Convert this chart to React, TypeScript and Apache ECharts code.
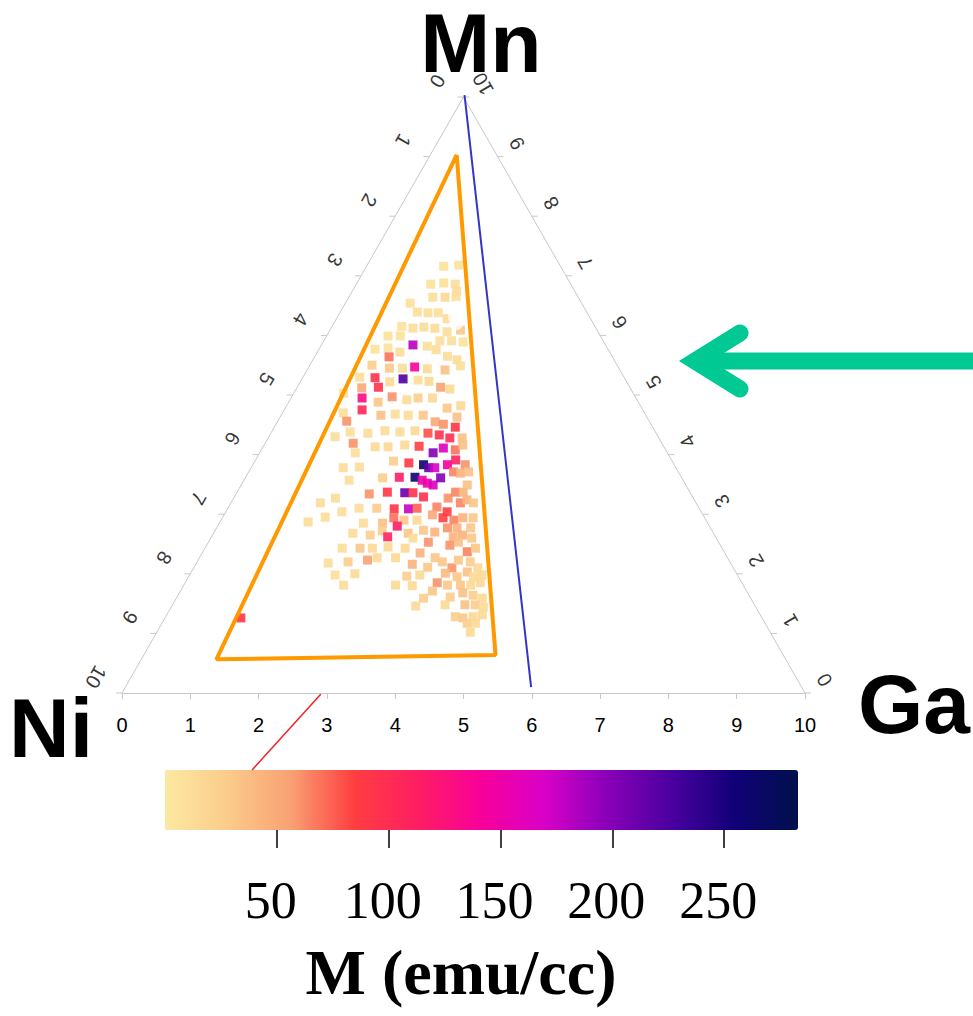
import React, { useEffect, useRef } from "react";
import * as echarts from "echarts";

const H = Math.sqrt(3) / 2;
// ternary composition (Ga, Mn, in tenths; Ni = 10 - Ga - Mn) -> plane coordinates
const toXY = (ga: number, mn: number): [number, number] => [ga + mn / 2, mn * H];

const axisSteps = [0, 1, 2, 3, 4, 5, 6, 7, 8, 9, 10];
const colorbarTicks = [50, 100, 150, 200, 250];
const mMin = 0;
const mMax = 283;
const magColors = [
  "#FCE9A1", "#FBCB8C", "#F8A072", "#FF3D40", "#FF1E62", "#F8009A",
  "#D800C8", "#8800B8", "#4B00A0", "#100078", "#00104A",
];

// samples: [Ga, Mn, M (emu/cc)]
const upperSamples: [number, number, number][] = [
  [1.13, 7.16, 8], [1.34, 7.18, 8], [1.09, 6.86, 8], [1.27, 6.88, 8], [1.45, 6.86, 10],
  [1.53, 6.74, 12], [1.23, 6.64, 10], [1.41, 6.64, 15], [1.57, 6.64, 10], [0.95, 6.54, 8],
  [1.13, 6.39, 10], [1.29, 6.38, 10], [1.44, 6.38, 10], [1.62, 6.28, 12], [1.02, 6.15, 8],
  [1.20, 6.12, 10], [1.35, 6.14, 12], [1.52, 6.12, 12], [1.73, 6.06, 10], [1.91, 6.09, 30],
  [0.90, 5.99, 8], [1.08, 5.99, 8], [1.34, 5.84, 180], [1.56, 5.82, 10], [1.70, 5.91, 10],
  [1.87, 5.91, 10], [2.05, 5.89, 8],
];

const middleSamples: [number, number, number][] = [
  [0.82, 5.77, 8], [1.00, 5.79, 8], [1.21, 5.72, 12], [1.72, 5.76, 10], [1.94, 5.65, 10],
  [2.11, 5.59, 12], [1.09, 5.64, 70], [0.91, 5.50, 25], [1.19, 5.45, 30], [1.38, 5.45, 12],
  [1.55, 5.47, 140], [1.75, 5.44, 15], [2.02, 5.42, 35], [2.21, 5.49, 10], [0.83, 5.30, 10],
  [1.06, 5.29, 95], [1.19, 5.13, 95], [1.31, 5.22, 15], [1.48, 5.27, 225], [1.71, 5.25, 10],
  [1.88, 5.23, 15], [2.10, 5.13, 55], [2.25, 5.10, 15], [0.95, 5.12, 50], [0.73, 5.03, 10],
  [1.04, 4.95, 130], [1.31, 4.88, 30], [1.47, 4.97, 60], [1.71, 4.92, 12], [1.86, 4.95, 25],
  [2.07, 4.95, 15], [2.37, 4.78, 30], [2.55, 4.82, 15], [0.89, 4.70, 10], [1.14, 4.75, 105],
  [1.46, 4.66, 35], [1.66, 4.68, 12], [1.86, 4.66, 12], [2.08, 4.66, 30], [2.31, 4.55, 50],
  [2.45, 4.51, 60], [2.59, 4.63, 35], [1.01, 4.56, 60], [1.15, 4.38, 10], [1.42, 4.36, 12],
  [1.65, 4.40, 12], [1.88, 4.38, 12], [2.09, 4.40, 15], [2.30, 4.36, 80], [2.48, 4.33, 95],
  [2.66, 4.28, 100], [2.65, 4.46, 90], [2.84, 4.28, 35], [0.97, 4.30, 10], [1.29, 4.19, 60],
];

const coreSamples: [number, number, number][] = [
  [1.64, 4.13, 15], [1.83, 4.13, 15], [2.06, 4.16, 15], [2.28, 4.14, 85], [2.54, 4.03, 200],
  [2.65, 4.11, 165], [2.84, 4.08, 70], [2.91, 4.16, 35], [1.40, 4.03, 10], [1.35, 3.78, 12],
  [1.58, 3.79, 12], [2.03, 3.89, 25], [2.27, 3.86, 90], [2.50, 3.83, 265], [2.60, 3.78, 215],
  [2.69, 3.78, 170], [2.85, 3.83, 145], [2.93, 3.91, 110], [3.11, 3.83, 60], [1.54, 3.57, 10],
  [2.01, 3.61, 25], [2.25, 3.62, 115], [2.48, 3.62, 260], [2.61, 3.57, 150], [2.71, 3.52, 150],
  [2.81, 3.49, 165], [2.86, 3.61, 200], [3.00, 3.71, 65], [3.11, 3.69, 45], [3.22, 3.71, 35],
  [1.95, 3.34, 60], [2.20, 3.37, 90], [2.46, 3.36, 210], [2.58, 3.36, 95], [2.77, 3.29, 95],
  [3.14, 3.27, 60], [3.20, 3.37, 65], [3.31, 3.37, 45], [3.31, 3.49, 35], [1.31, 3.19, 12],
  [1.49, 3.27, 12], [1.92, 3.10, 10], [2.18, 3.10, 25], [2.44, 3.09, 90], [2.65, 3.09, 175],
  [2.77, 3.10, 75], [3.05, 3.12, 65], [3.24, 3.04, 85], [3.36, 3.19, 65], [3.43, 3.24, 45],
  [3.55, 3.19, 30], [1.29, 2.87, 12], [1.50, 2.95, 12], [1.70, 3.04, 12], [2.11, 2.85, 12],
  [2.39, 2.85, 35], [2.51, 2.94, 70], [2.68, 2.90, 30], [2.87, 2.90, 15], [3.05, 2.99, 50],
  [3.23, 2.94, 85], [3.41, 2.90, 65], [3.52, 2.94, 45], [3.67, 2.94, 30], [2.63, 2.80, 115],
  [2.04, 2.68, 12], [2.31, 2.65, 25], [2.45, 2.72, 25], [2.58, 2.62, 110], [2.85, 2.68, 30],
  [3.05, 2.73, 30], [3.23, 2.70, 45], [3.38, 2.77, 60], [3.52, 2.77, 45], [3.66, 2.65, 45],
  [3.72, 2.77, 30],
];

const lowerSamples: [number, number, number][] = [
  [2.96, 2.60, 12], [3.22, 2.53, 60], [3.54, 2.62, 45], [3.82, 2.60, 30], [2.01, 2.43, 10],
  [2.27, 2.43, 30], [2.45, 2.43, 15], [2.67, 2.45, 15], [2.93, 2.43, 15], [3.19, 2.35, 45],
  [3.45, 2.27, 30], [3.56, 2.48, 60], [3.66, 2.53, 35], [3.87, 2.37, 65], [3.96, 2.43, 30],
  [1.93, 2.18, 10], [2.21, 2.20, 25], [2.48, 2.23, 55], [2.60, 2.27, 15], [2.87, 2.27, 15],
  [3.17, 2.16, 45], [3.42, 2.11, 30], [3.59, 2.20, 30], [3.78, 2.10, 60], [3.81, 2.23, 30],
  [4.00, 2.20, 25], [4.16, 2.10, 15], [2.13, 1.98, 10], [2.41, 2.00, 15], [3.19, 1.96, 25],
  [3.37, 1.98, 15], [3.69, 1.85, 60], [3.73, 2.01, 40], [3.93, 1.95, 30], [4.04, 2.03, 35],
  [4.17, 1.95, 15], [4.28, 1.98, 15], [2.34, 1.81, 12], [3.10, 1.81, 15], [3.35, 1.80, 15],
  [3.69, 1.71, 30], [3.86, 1.81, 30], [4.05, 1.81, 30], [4.20, 1.81, 15], [4.32, 1.85, 15],
  [3.62, 1.59, 25], [4.00, 1.61, 25], [4.15, 1.68, 35], [4.32, 1.64, 25], [4.48, 1.59, 15],
  [3.57, 1.46, 15], [3.99, 1.48, 15], [4.28, 1.48, 35], [4.43, 1.48, 25], [4.57, 1.44, 15],
  [4.24, 1.28, 25], [4.36, 1.26, 30], [4.50, 1.28, 15], [4.62, 1.31, 15], [4.47, 1.17, 25],
  [4.59, 1.17, 15], [4.59, 1.02, 15], [1.11, 1.26, 92],
];

// outlined composition region and guide lines, [Ga, Mn]
const orangeRegion: [number, number][] = [[0.385, 9.03], [1.10, 0.565], [5.15, 0.638], [0.385, 9.03]];
const blueTieLine: [number, number][] = [[0, 10.03], [5.94, 0.10]];
const redLead: [number, number][] = [[2.92, -0.02], [2.55, -1.29]];
const voidMark: [number, number][] = [[1.73, 6.34]];

// tick label anchors, offset outward from the edges (plane units)
const leftLabelShift: [number, number] = [-0.381, 0.232];
const rightLabelShift: [number, number] = [0.283, 0.19];

export default function App() {
  const ref = useRef<HTMLDivElement>(null);

  useEffect(() => {
    const chart = echarts.init(ref.current!, null, { renderer: "svg" });
    const samples = [...upperSamples, ...middleSamples, ...coreSamples, ...lowerSamples];
    const sans = "'Liberation Sans', Arial, sans-serif";
    const serif = "'Liberation Serif', 'Times New Roman', serif";

    const line = (pts: [number, number][], color: string, width: number, z: number) => ({
      type: "line",
      data: pts.map(([g, m]) => toXY(g, m)),
      symbol: "none",
      clip: false,
      silent: true,
      z,
      lineStyle: { color, width },
    });

    const edgeLabels = (side: number) => ({
      type: "scatter",
      symbolSize: 0,
      silent: true,
      clip: false,
      z: 5,
      data: axisSteps.map((s) => {
        const [x, y] = side === 0 ? toXY(0, 10 - s) : toXY(10 - s, s);
        const sh = side === 0 ? leftLabelShift : rightLabelShift;
        return { value: [x + sh[0], y + sh[1]], name: String(s) };
      }),
      label: {
        show: true,
        position: "inside",
        formatter: "{b}",
        rotate: side === 0 ? -120 : 120,
        fontSize: 20,
        fontFamily: sans,
        color: "#000",
      },
    });

    chart.setOption({
      animation: false,
      grid: [
        { left: 122, top: 97, width: 683, height: 596 },
        { left: 165, top: 829, width: 633, height: 1 },
      ],
      xAxis: [
        {
          gridIndex: 0, type: "value", min: 0, max: 10, interval: 1,
          axisLine: { lineStyle: { color: "#c8c8c8", width: 1 } },
          axisTick: { length: 6, lineStyle: { color: "#c8c8c8" } },
          axisLabel: { fontSize: 20, color: "#000", fontFamily: sans, margin: 22, showMinLabel: true, showMaxLabel: true },
          splitLine: { show: false },
        },
        {
          gridIndex: 1, type: "value", min: mMin, max: mMax,
          axisLine: { show: false },
          axisTick: { show: true, customValues: colorbarTicks, length: 18, lineStyle: { color: "#000", width: 1.5 } },
          axisLabel: { customValues: colorbarTicks, fontSize: 52, fontFamily: serif, color: "#000", margin: 44, padding: [0, 12, 0, 0] },
          splitLine: { show: false },
        },
      ],
      yAxis: [
        { gridIndex: 0, type: "value", min: 0, max: 10 * H, show: false },
        { gridIndex: 1, type: "value", min: 0, max: 1, show: false },
      ],
      visualMap: {
        type: "continuous",
        min: mMin,
        max: mMax,
        dimension: 2,
        seriesIndex: 0,
        orient: "horizontal",
        left: 165,
        top: 770,
        itemWidth: 60,
        itemHeight: 633,
        padding: 0,
        calculable: false,
        hoverLink: false,
        inRange: { color: magColors },
      },
      series: [
        {
          type: "scatter",
          name: "samples",
          symbol: "rect",
          symbolSize: 9,
          z: 3,
          itemStyle: { opacity: 0.9 },
          data: samples.map(([g, m, v]) => [...toXY(g, m), v]),
        },
        line([[0, 0], [0, 10], [10, 0]], "#c8c8c8", 1, 1),
        {
          type: "custom",
          silent: true,
          clip: false,
          z: 1,
          data: [...axisSteps.map((s) => [0, s]), ...axisSteps.map((s) => [1, s])],
          renderItem: (_p: any, api: any) => {
            const side = api.value(0);
            const s = api.value(1);
            const p = api.coord(side === 0 ? toXY(0, 10 - s) : toXY(10 - s, s));
            const dx = side === 0 ? -6 : 6;
            return {
              type: "line",
              shape: { x1: p[0], y1: p[1], x2: p[0] + dx, y2: p[1] },
              style: { stroke: "#c8c8c8", lineWidth: 1 },
            };
          },
        },
        edgeLabels(0),
        edgeLabels(1),
        line(orangeRegion, "#FF9900", 4, 4),
        line(blueTieLine, "#3434C8", 2, 4),
        line(redLead, "#F0202A", 1.5, 4),
        {
          type: "scatter",
          symbol: "circle",
          symbolSize: [17, 30],
          silent: true,
          z: 4,
          itemStyle: { color: "#fff" },
          data: voidMark.map(([g, m]) => toXY(g, m)),
        },
      ],
      graphic: [
        { type: "text", x: 481, y: 43, style: { text: "Mn", font: `bold 84px ${sans}`, lineHeight: 70, fill: "#000", textAlign: "center", textVerticalAlign: "middle" } },
        { type: "text", x: 51, y: 728, style: { text: "Ni", font: `bold 84px ${sans}`, fill: "#000", textAlign: "center", textVerticalAlign: "middle" } },
        { type: "text", x: 858, y: 704, style: { text: "Ga", font: `bold 84px ${sans}`, fill: "#000", textAlign: "left", textVerticalAlign: "middle" } },
        { type: "text", x: 461, y: 972, style: { text: "M (emu/cc)", font: `bold 64px ${serif}`, fill: "#000", textAlign: "center", textVerticalAlign: "middle" } },
        {
          type: "line", silent: true,
          shape: { x1: 702, y1: 361, x2: 990, y2: 361 },
          style: { stroke: "#00C994", lineWidth: 17 },
        },
        {
          type: "polyline", silent: true,
          shape: { points: [[740, 333], [695, 361], [740, 389]] },
          style: { stroke: "#00C994", lineWidth: 17, lineCap: "round", lineJoin: "miter", fill: null },
        },
      ],
    });

    return () => chart.dispose();
  }, []);

  return <div ref={ref} style={{ position: "absolute", left: 0, top: 0, width: 973, height: 1016 }} />;
}
